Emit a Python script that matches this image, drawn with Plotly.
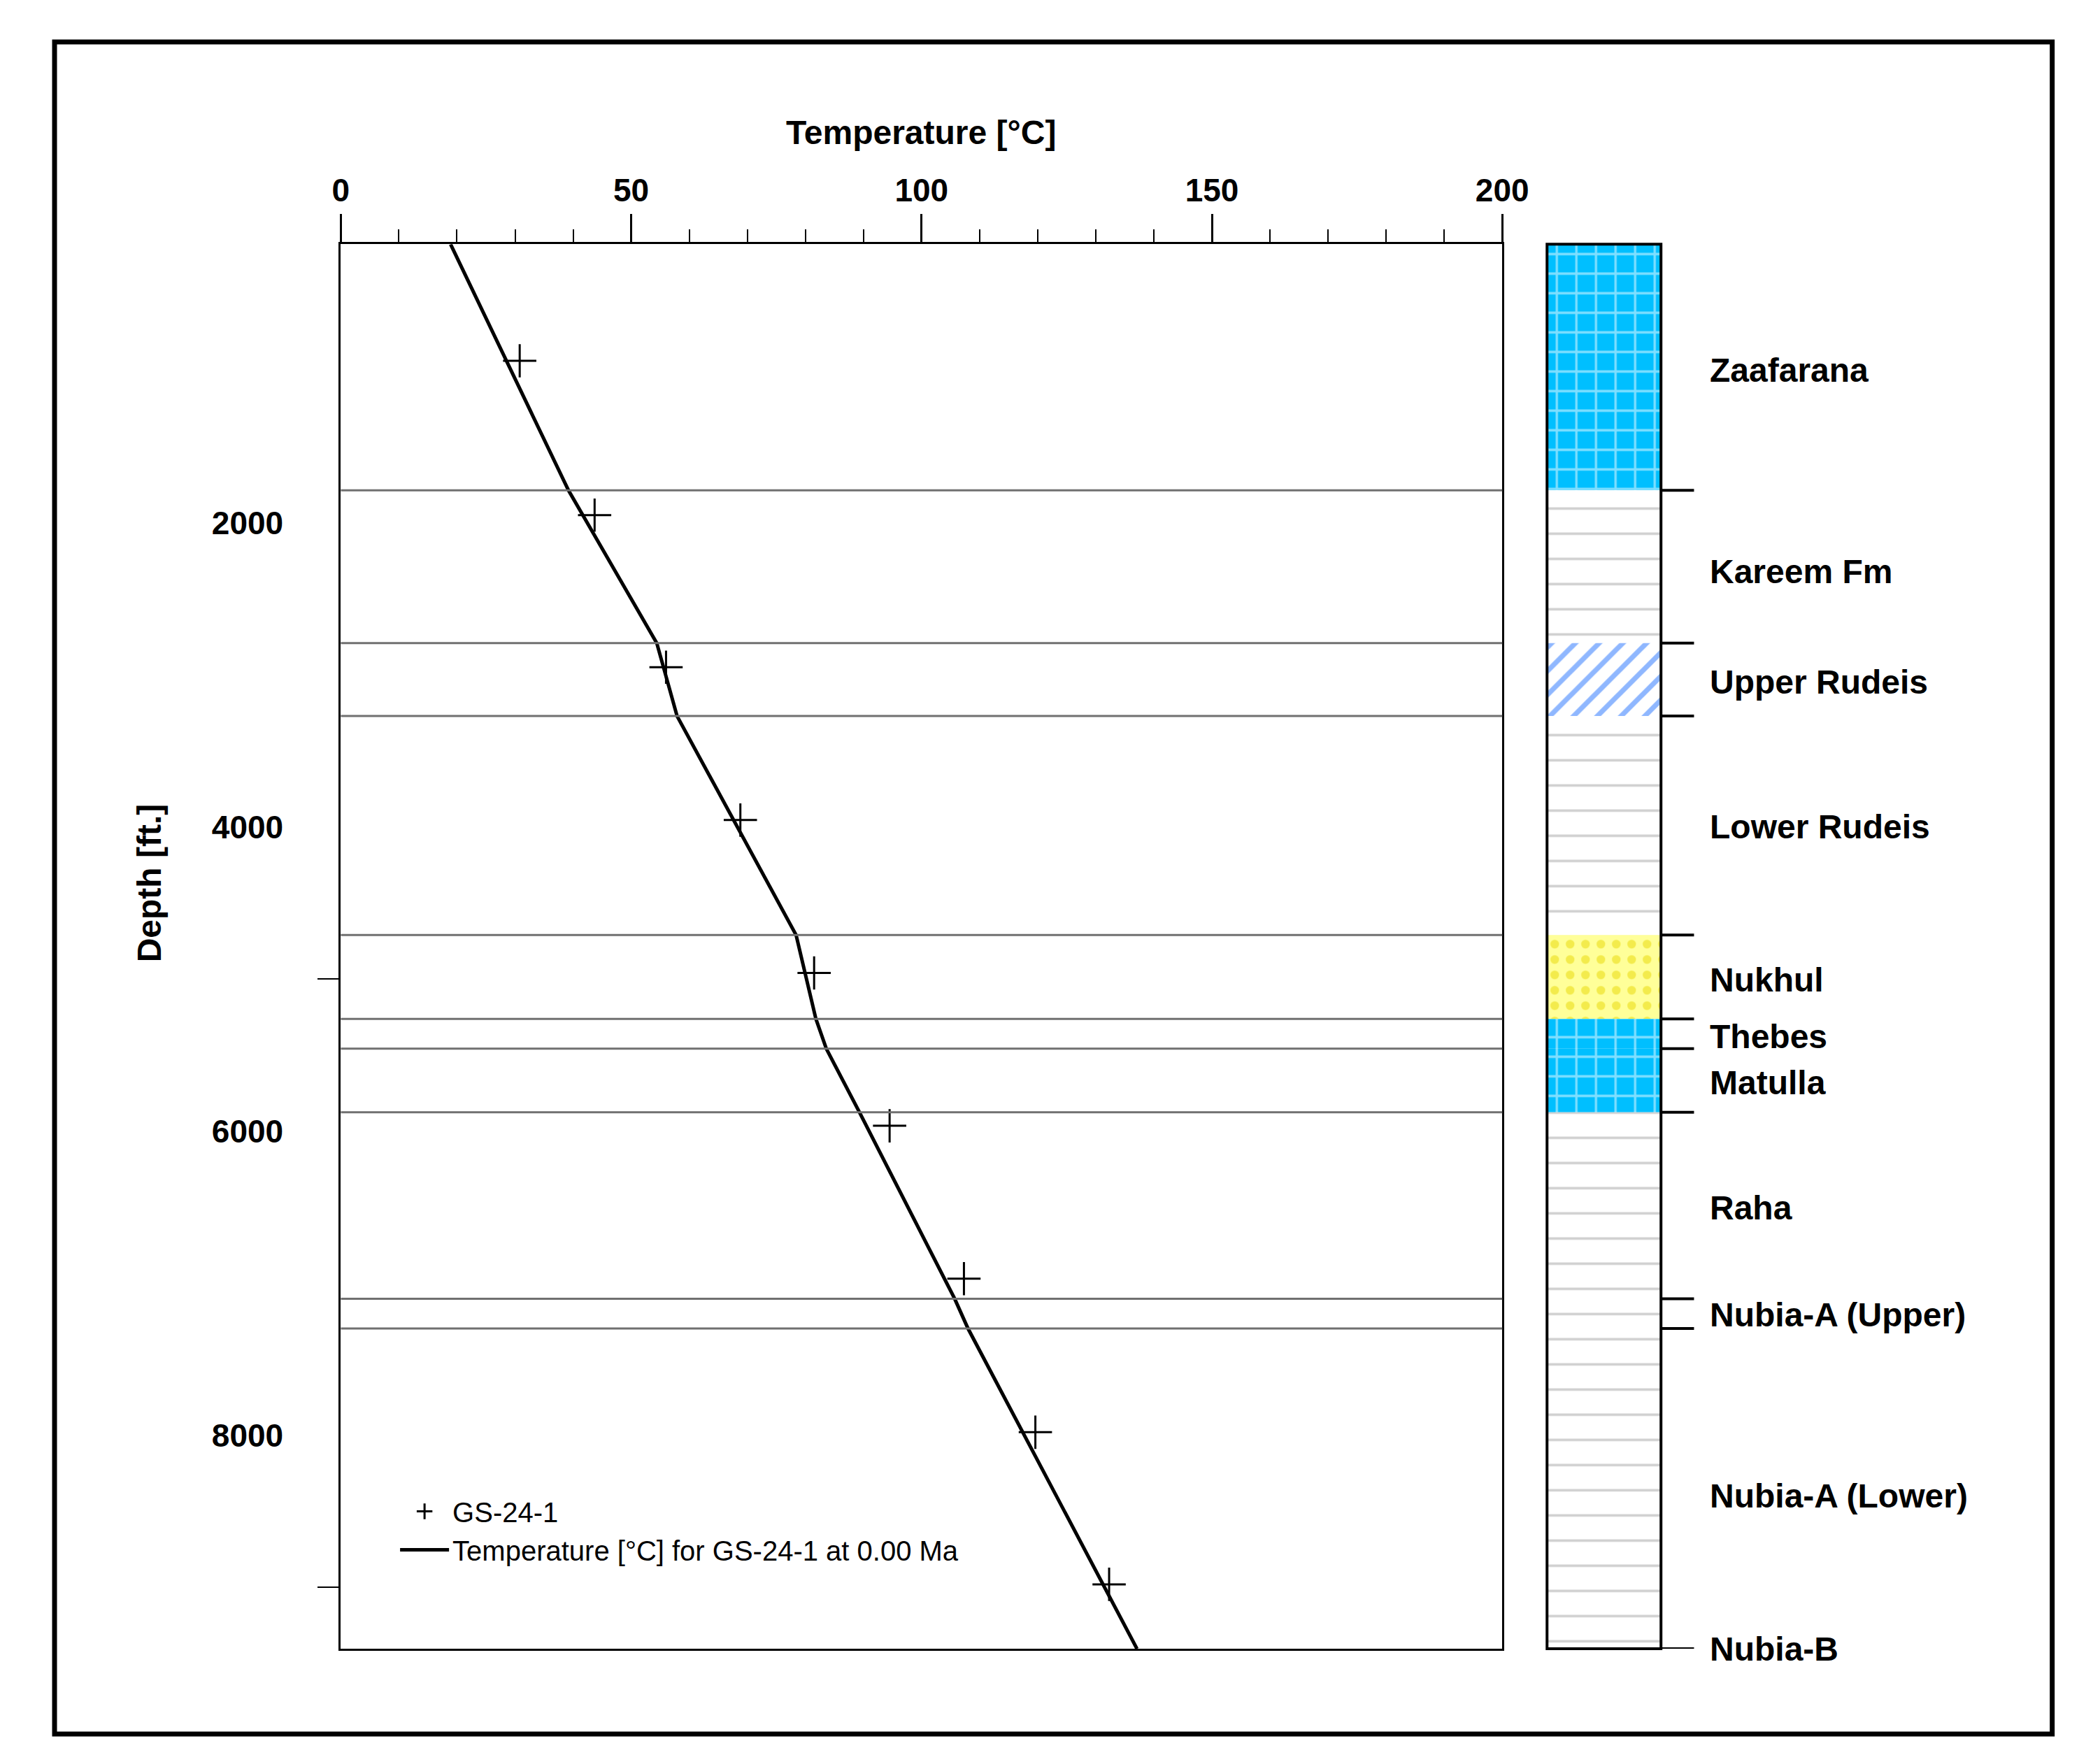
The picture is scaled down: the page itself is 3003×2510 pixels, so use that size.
import plotly.graph_objects as go

# calibration points (temperature degC, depth ft)
meas_temp = [30.8, 43.7, 56.0, 68.8, 81.5, 94.5, 107.3, 119.6, 132.3]
meas_depth = [935, 1950, 2950, 3955, 4960, 5965, 6970, 7980, 8980]

# modelled temperature at 0.00 Ma
model_temp = [18.9, 39.2, 54.4, 57.9, 78.4, 81.8, 83.6, 89.3, 105.7, 108.0, 137.1]
model_depth = [169, 1787, 2791, 3271, 4711, 5262, 5458, 5876, 7102, 7298, 9404]

# formations
form_names = ["Zaafarana", "Kareem Fm", "Upper Rudeis", "Lower Rudeis", "Nukhul", "Thebes",
              "Matulla", "Raha", "Nubia-A (Upper)", "Nubia-A (Lower)"]
form_top = [169, 1787, 2791, 3271, 4711, 5262, 5458, 5876, 7102, 7298]
form_base = [1787, 2791, 3271, 4711, 5262, 5458, 5876, 7102, 7298, 9404]
label_depth = [996, 2320, 3049, 4000, 5004, 5378, 5680, 6507, 7209, 8400]
bottom_name = "Nubia-B"
bottom_depth = 9404

LIME = dict(bgcolor="#00bfff", fgcolor="white", shape="+", size=28, solidity=0.22)
SHALE = dict(bgcolor="white", fgcolor="#a0a0a0", shape="-", size=36, solidity=0.1)
SHALY_LIME = dict(bgcolor="white", fgcolor="#1f6fff", shape="/", size=24, solidity=0.3)
SAND = dict(bgcolor="#ffff99", fgcolor="#e8d800", shape=".", size=22, solidity=0.25)
lith = [LIME, SHALE, SHALY_LIME, SHALE, SAND, LIME, LIME, SHALE, SHALE, SHALE]

FONT = "Liberation Sans"
fig = go.Figure()

for name, top, base, pat in zip(form_names, form_top, form_base, lith):
    fig.add_trace(go.Bar(
        x=[0], y=[base - top], base=[top], width=[1],
        xaxis="x2", yaxis="y",
        marker=dict(color=pat["bgcolor"], pattern=pat, line=dict(width=0)),
        showlegend=False, hoverinfo="skip",
    ))

fig.add_trace(go.Scatter(
    x=meas_temp, y=meas_depth, mode="markers", name="GS-24-1",
    marker=dict(symbol="cross-thin", size=34, line=dict(color="black", width=3)),
))
fig.add_trace(go.Scatter(
    x=model_temp, y=model_depth, mode="lines", name="Temperature [°C] for GS-24-1 at 0.00 Ma",
    line=dict(color="black", width=5),
))

shapes = []
for d in form_top[1:]:
    shapes.append(dict(type="line", xref="paper", yref="y", x0=0.158, x1=0.7206, y0=d, y1=d,
                       line=dict(color="#707070", width=3)))
for d in form_top[1:] + [bottom_depth]:
    shapes.append(dict(type="line", xref="paper", yref="y", x0=0.7975, x1=0.8135, y0=d, y1=d,
                       line=dict(color="black", width=4)))
# column outline
shapes.append(dict(type="rect", xref="paper", yref="paper", x0=0.7423, x1=0.7975,
                   y0=0.0637, y1=0.864, line=dict(color="black", width=4)))
# outer frame
shapes.append(dict(type="rect", xref="paper", yref="paper", x0=58 / 3003, x1=2964 / 3003,
                   y0=1 - 2472 / 2510, y1=1 - 52 / 2510, line=dict(color="black", width=7)))

annotations = []
for name, d in zip(form_names + [bottom_name], label_depth + [bottom_depth]):
    annotations.append(dict(x=0.8205, xref="paper", y=d, yref="y", text=name, showarrow=False,
                            xanchor="left", font=dict(family=FONT, size=48, color="black", weight="bold")))
annotations.append(dict(x=0.439, xref="paper", y=0.939, yref="paper", text="Temperature [°C]",
                        showarrow=False, font=dict(family=FONT, size=48, color="black", weight="bold")))
annotations.append(dict(x=0.0555, xref="paper", y=0.5, yref="paper", text="Depth [ft.]", textangle=-90,
                        showarrow=False, font=dict(family=FONT, size=48, color="black", weight="bold")))

fig.update_layout(
    width=3003, height=2510,
    margin=dict(l=0, r=0, t=0, b=0),
    paper_bgcolor="white", plot_bgcolor="white",
    font=dict(family=FONT, color="black"),
    barmode="overlay",
    xaxis=dict(domain=[0.158, 0.7206], range=[0, 200], side="top", dtick=50,
               ticks="outside", ticklen=40, tickwidth=3, tickcolor="black",
               minor=dict(dtick=10, ticks="outside", ticklen=18, tickwidth=2, tickcolor="black"),
               showgrid=False, zeroline=False, showline=True, linecolor="black", linewidth=3, mirror=True,
               tickfont=dict(size=46, weight="bold"), anchor="y"),
    xaxis2=dict(domain=[0.7423, 0.7975], range=[-0.5, 0.5], visible=False, anchor="y"),
    yaxis=dict(domain=[0.0637, 0.864], range=[9404, 169], tickvals=[2000, 4000, 6000, 8000],
               ticks="", showgrid=False, zeroline=False, showline=True, linecolor="black",
               linewidth=3, mirror=True, tickfont=dict(size=46, weight="bold"), ticklabelstandoff=70,
               minor=dict(tickvals=[5000, 9000], ticks="outside", ticklen=30,
                          tickwidth=2, tickcolor="black")),
    legend=dict(x=0.185, y=0.155, xanchor="left", yanchor="top", bgcolor="rgba(0,0,0,0)",
                font=dict(family=FONT, size=40), itemwidth=70, tracegroupgap=20),
    shapes=shapes, annotations=annotations,
)

fig.write_html("out.html")
